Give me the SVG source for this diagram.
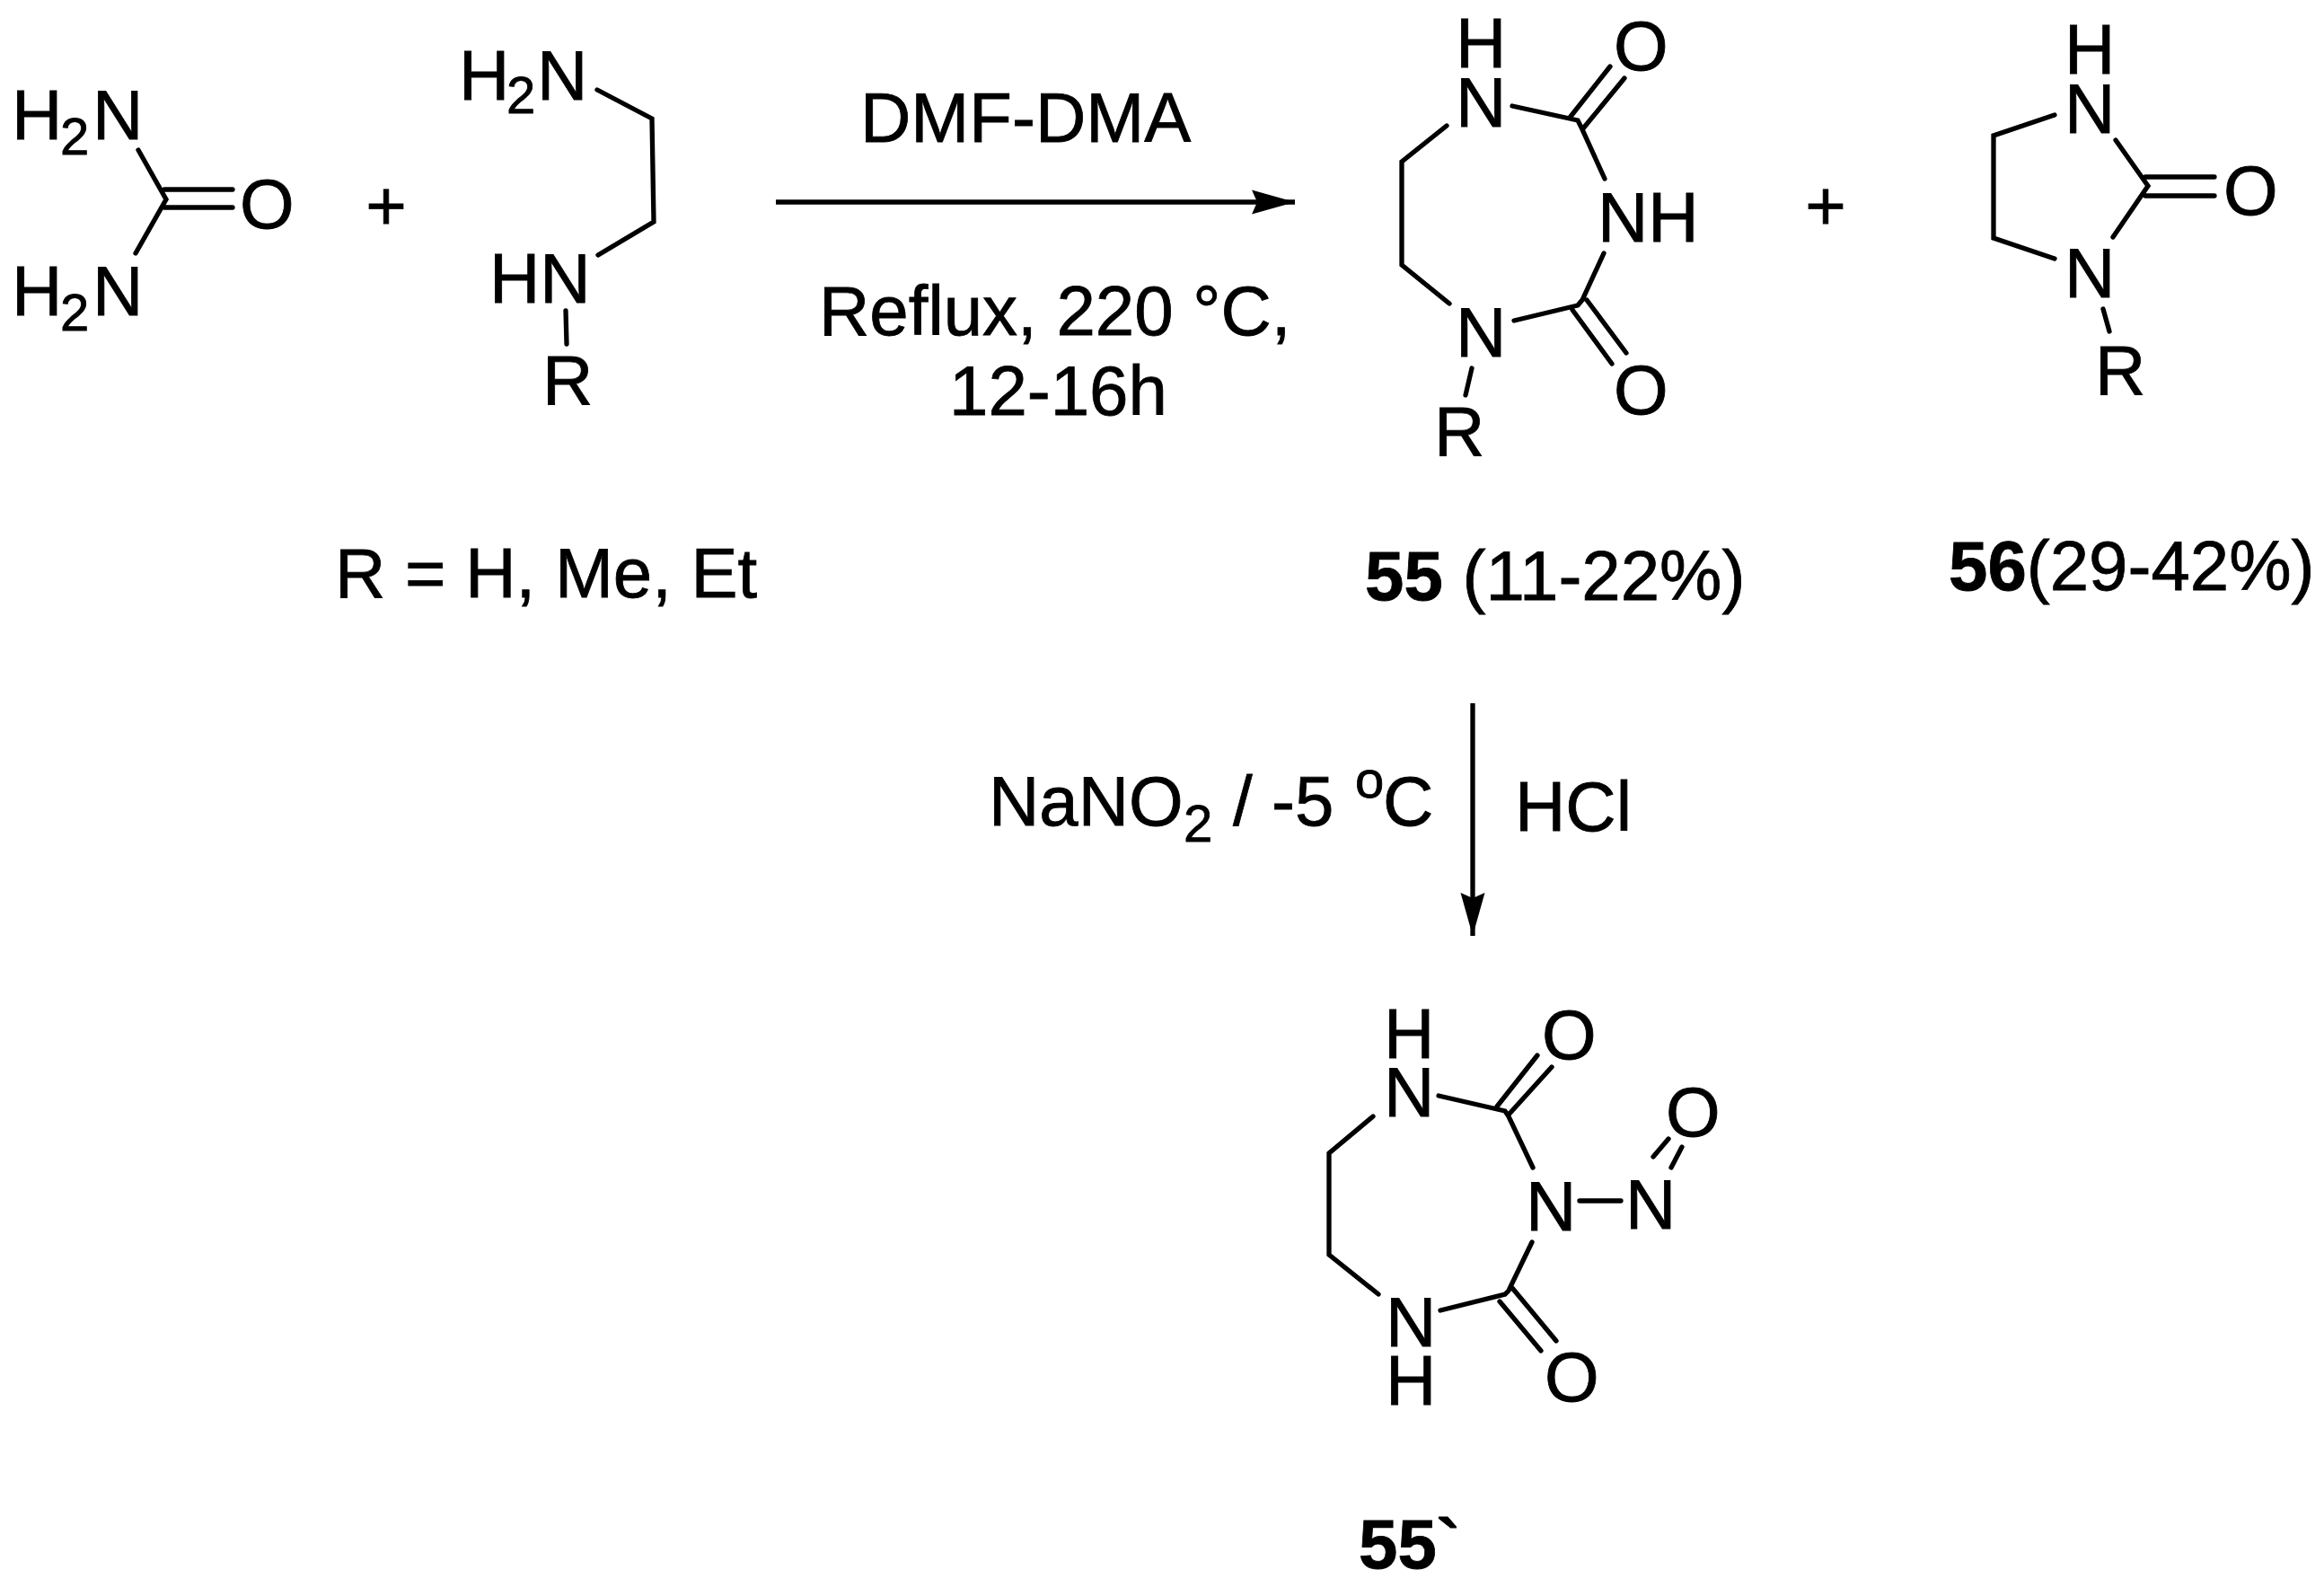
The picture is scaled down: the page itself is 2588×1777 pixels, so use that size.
<svg xmlns="http://www.w3.org/2000/svg" width="2588" height="1777" viewBox="0 0 2588 1777">
<defs><style>
text{font-family:"Liberation Sans",Arial,sans-serif;font-size:78px;fill:#000;stroke:#000;stroke-width:.8}
.s{font-size:58px}
.b{font-weight:bold}
.l{fill:none;stroke:#000;stroke-width:5.3;stroke-linecap:round;stroke-linejoin:miter}
</style>
<marker id="ah" markerUnits="userSpaceOnUse" markerWidth="60" markerHeight="34" refX="48" refY="17" orient="auto"><path d="M0 3.5L48 17L0 30.5L6 17Z" fill="#000"/></marker>
</defs>
<rect width="2588" height="1777" fill="#fff"/>
<g id="connectors">
<path class="l" style="stroke-linecap:butt" marker-end="url(#ah)" d="M864 225H1442"/>
<path class="l" style="stroke-linecap:butt" marker-end="url(#ah)" d="M1640 783V1042"/>
</g>
<g id="urea"><text x="13" y="155">H</text><text class="s" x="67" y="172">2</text><text x="103" y="155">N</text>
<text x="13" y="351">H</text><text class="s" x="67" y="368">2</text><text x="103" y="351">N</text><text x="267" y="254">O</text>
<path class="l" d="M154 167L185 222L151 282M183 211H259M183 231H259"/></g>
<g id="plus1"><text x="430" y="256" text-anchor="middle">+</text></g>
<g id="diamine"><text x="511" y="111">H</text><text class="s" x="564" y="126">2</text><text x="598" y="111">N</text>
<text x="545" y="337">HN</text><text x="604" y="450">R</text>
<path class="l" d="M665 100L726 132L728 247L666 284M630 346L631 383"/></g>
<g id="rdef"><text x="373" y="665">R = H, Me, Et</text></g>
<g id="cond1"><text x="958" y="158">DMF-DMA</text><text x="912" y="373">Reflux, 220 °C,</text><text x="1057" y="462">12-16h</text></g>
<g id="mol55"><text x="1621" y="75">H</text><text x="1621" y="141">N</text><text x="1797" y="78">O</text><text x="1779" y="269">NH</text><text x="1621" y="397">N</text><text x="1797" y="461">O</text><text x="1597" y="507">R</text>
<path class="l" d="M1611 140L1561 180V295L1614 338M1684 118L1757 134L1761 142L1787 199M1786 282L1762 334L1757 340L1686 357M1748 131L1793 74M1763 143L1809 87M1751 345L1795 405M1767 334L1811 393M1639 410L1632 440"/>
<text x="1520" y="668"><tspan class="b">55</tspan> (11-22%)</text></g>
<g id="plus2"><text x="2033" y="256" text-anchor="middle">+</text></g>
<g id="mol56"><text x="2299" y="82">H</text><text x="2299" y="148">N</text><text x="2299" y="331">N</text><text x="2476" y="239">O</text><text x="2333" y="439">R</text>
<path class="l" d="M2288 128L2220 151V265L2288 288M2356 156L2392 207L2353 264M2389 197H2466M2389 218H2466M2342 344L2349 369"/>
<text x="2170" y="657"><tspan class="b">56</tspan>(29-42%)</text></g>
<g id="cond2"><text x="1101" y="919">NaNO</text><text class="s" x="1318" y="937">2</text><text x="1373" y="919">/</text><text x="1416" y="919">-5</text><text class="s" x="1509" y="888">o</text><text x="1540" y="919">C</text><text x="1687" y="925">HCl</text></g>
<g id="mol55b"><text x="1541" y="1178">H</text><text x="1541" y="1243">N</text><text x="1717" y="1179">O</text><text x="1699" y="1370">N</text><text x="1810" y="1368">N</text><text x="1855" y="1265">O</text><text x="1543" y="1499">N</text><text x="1543" y="1564">H</text><text x="1720" y="1560">O</text>
<path class="l" d="M1529 1243L1480 1284V1397L1535 1441M1602 1220L1676 1237L1680 1243L1707 1300M1706 1383L1680 1437L1676 1441L1604 1459M1667 1232L1712 1175M1680 1241L1728 1188M1670 1449L1716 1504M1684 1434L1733 1493M1759 1337H1805M1841 1288L1858 1268M1861 1300L1873 1277"/>
<text class="b" x="1513" y="1746">55`</text></g>
</svg>
